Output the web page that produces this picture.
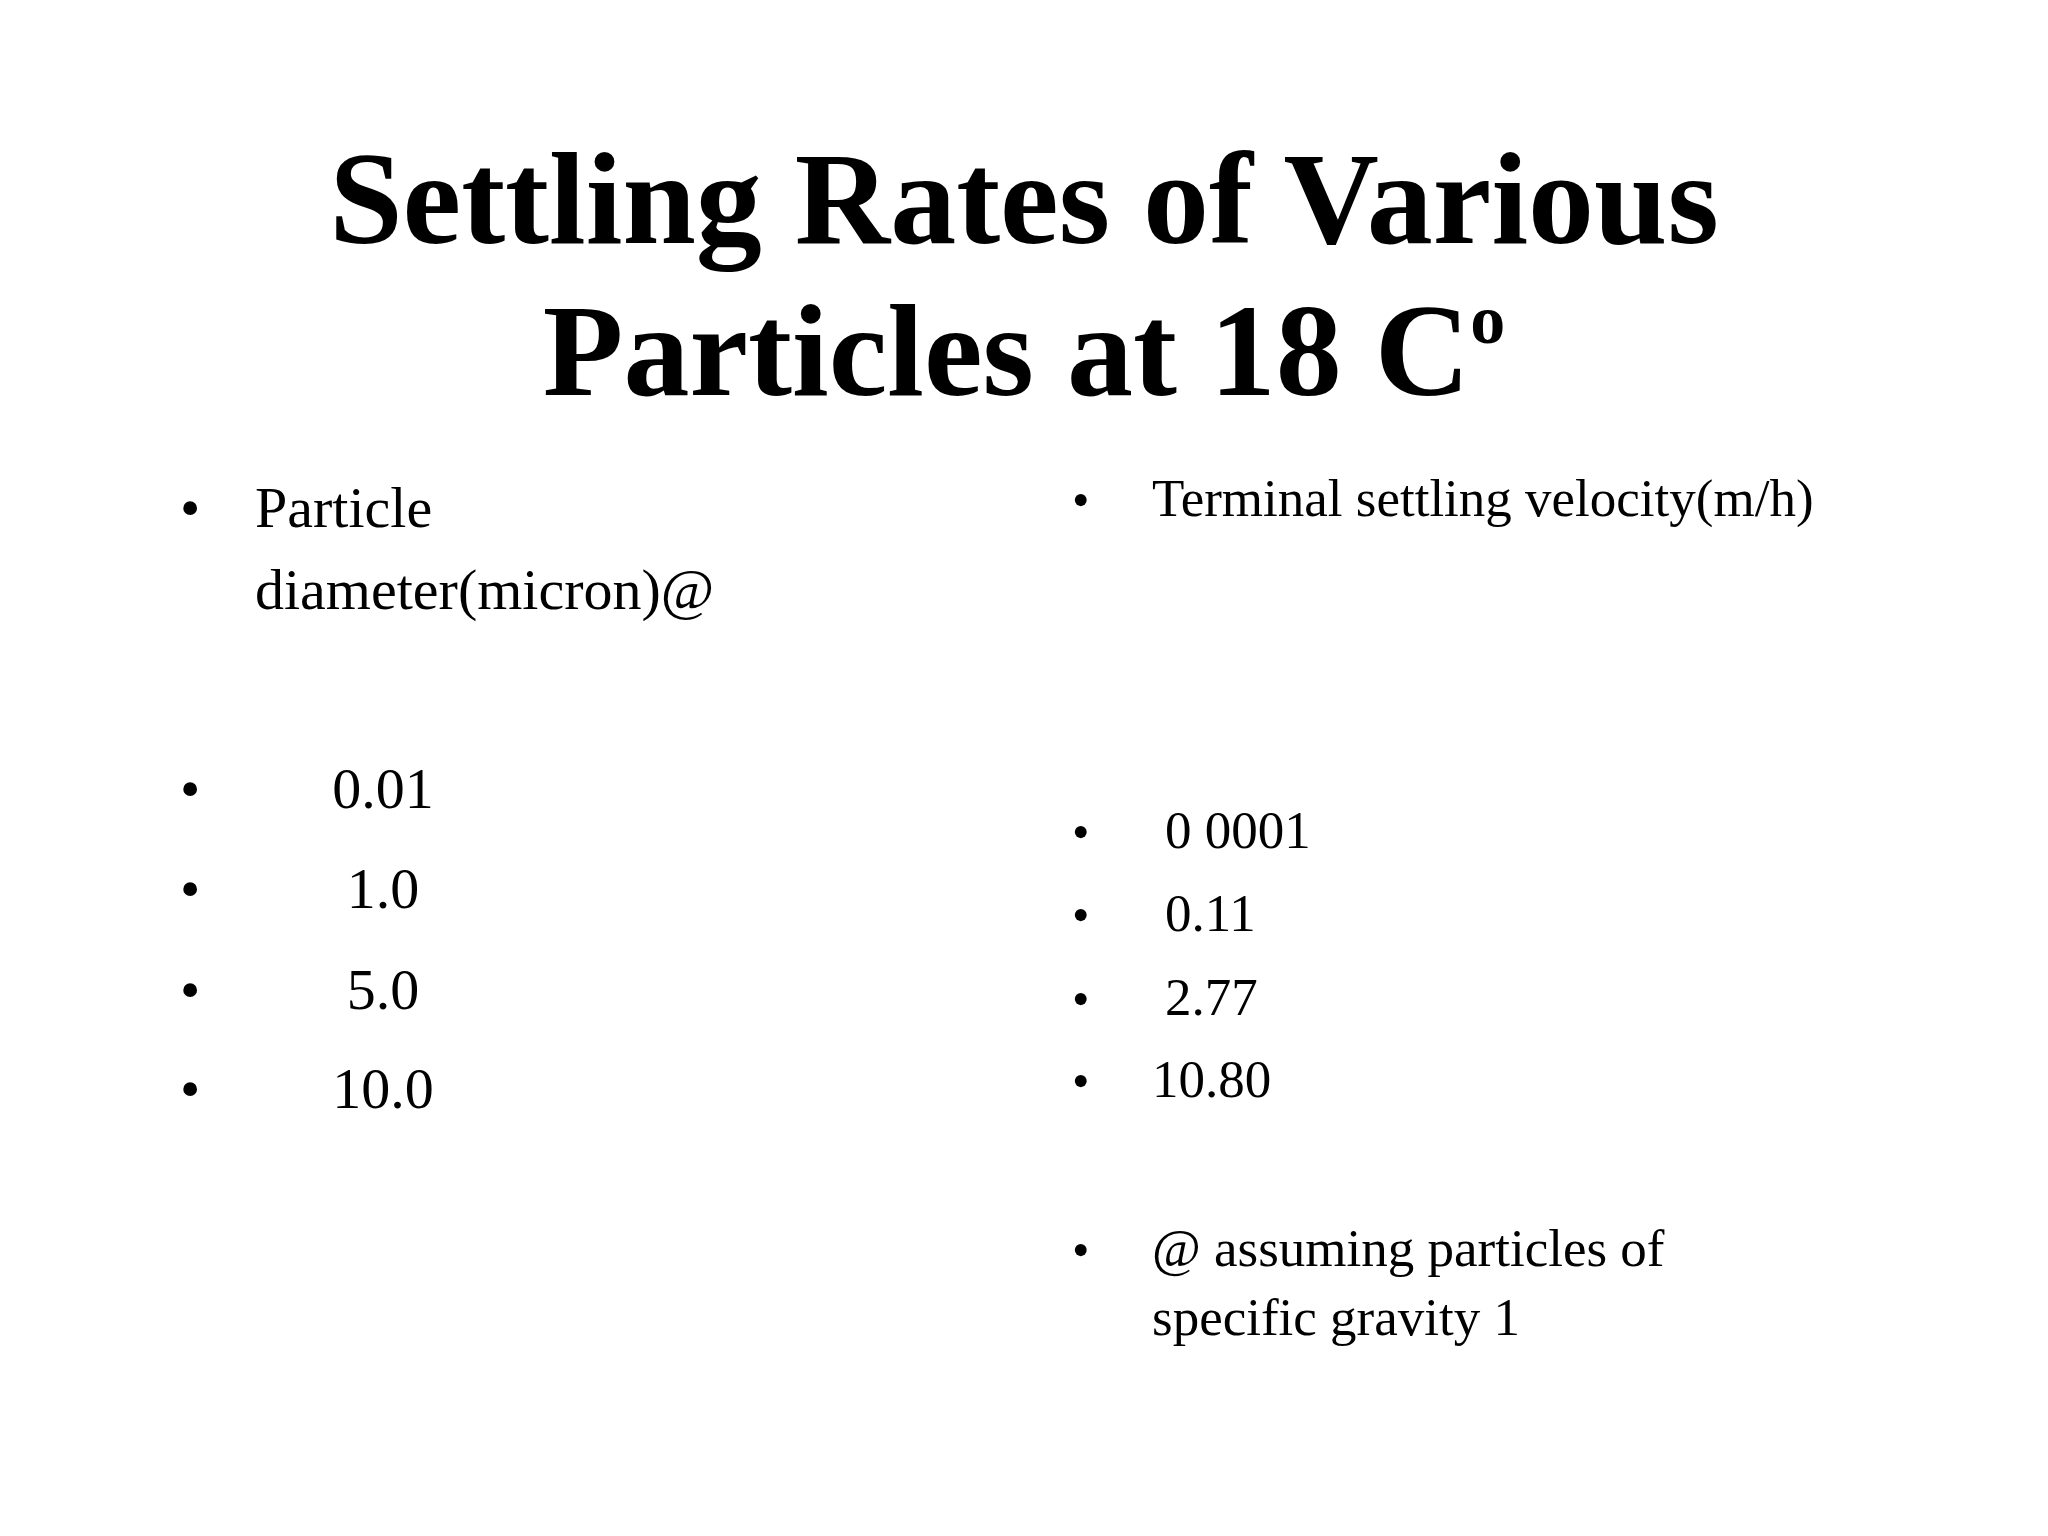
<!DOCTYPE html>
<html>
<head>
<meta charset="utf-8">
<script src="https://cdn.jsdelivr.net/npm/chart.js@4"></script>
<style>
  body { margin: 0; width: 2048px; height: 1536px; background: #fff; position: relative; font-family: "Liberation Serif", "Times New Roman", serif; color: #000; overflow: hidden; }
  .t { position: absolute; line-height: 1; white-space: pre; }
  .title { font-weight: bold; font-size: 132px; width: 2048px; left: 0; text-align: center; }
</style>
</head>
<body>
<script>
// Slide content
const titleLines = ['Settling Rates of Various', 'Particles at 18 C'];
const diameterHeader = ['Particle', 'diameter(micron)@'];
const diameters = ['0.01', '1.0', '5.0', '10.0'];
const velocityHeader = ['Terminal settling velocity(m/h)'];
const velocities = ['0 0001', '0.11', '2.77', '10.80'];
const footnote = ['@ assuming particles of', 'specific gravity 1'];

function put(text, x, baseline, size, extra) {
    const d = document.createElement('div');
    d.className = 't';
    d.style.left = x + 'px';
    d.style.top = (baseline - 0.84 * size) + 'px';
    d.style.fontSize = size + 'px';
    if (extra) Object.assign(d.style, extra);
    d.textContent = text;
    document.body.appendChild(d);
    return d;
}

// title
titleLines.forEach((line, i) => {
    const d = document.createElement('div');
    d.className = 't title';
    d.style.top = (133 + i * 152) + 'px';
    d.textContent = line;
    if (i === 1) {
        const sup = document.createElement('span');
        sup.textContent = 'o';
        sup.style.fontSize = '70px';
        sup.style.verticalAlign = '52px';
        d.appendChild(sup);
    }
    document.body.appendChild(d);
});

// left column
put('•', 180, 528, 58);
diameterHeader.forEach((s, i) => put(s, 255, 528 + i * 82, 58));
[809, 909, 1010, 1109].forEach((b, i) => {
    put('•', 180, b, 58);
    put(diameters[i], 383, b, 58, { transform: 'translateX(-50%)' });
});

// right column
put('•', 1072, 517, 50);
put(velocityHeader[0], 1152, 517, 53);
[849, 932, 1016, 1098].forEach((b, i) => {
    put('•', 1072, b, 50);
    put(velocities[i], i === 3 ? 1152 : 1165, b, 53);
});
put('•', 1072, 1267, 50);
footnote.forEach((s, i) => put(s, 1152, 1267 + i * 69, 53));
</script>
</body>
</html>
